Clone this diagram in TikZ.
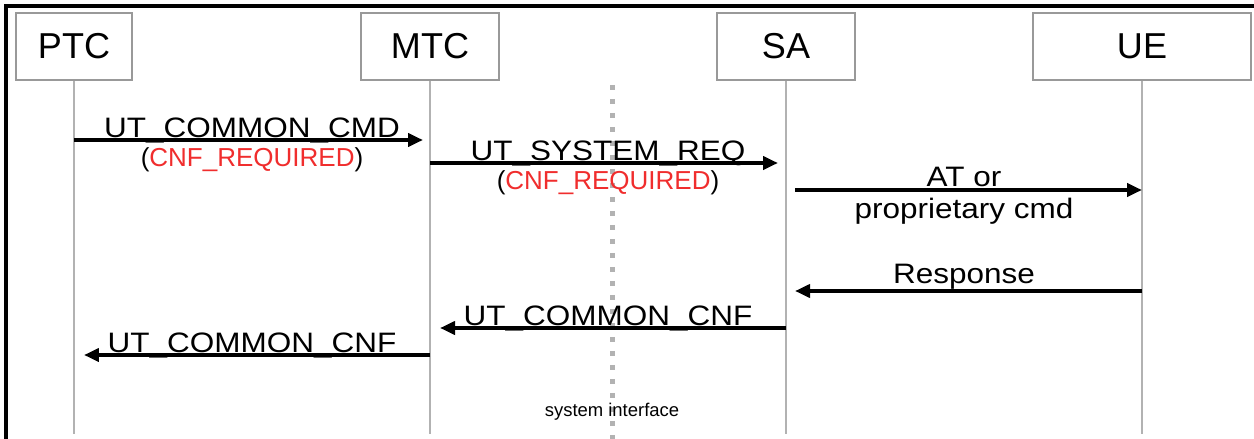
\documentclass[tikz,border=0pt]{standalone}
\usepackage{fontspec}
\setmainfont{Liberation Sans}
\newfontfamily\msgfont[FakeStretch=1.12]{Liberation Sans}
\usetikzlibrary{arrows.meta}
\definecolor{cnfred}{RGB}{240,45,45}

\begin{document}
\begin{tikzpicture}[x=0.02cm, y=-0.02cm,
		box/.style  = {rectangle, draw=black!40, line width=0.04cm, fill=white, minimum height=1.34cm, inner sep=0pt, font=\fontsize{20.5}{24}\selectfont},
		life/.style = {draw=black!30, line width=0.04cm},
		msg/.style  = {-{Triangle[length=0.3cm, width=0.26cm]}, line width=0.08cm},
		txt/.style  = {inner sep=0pt, anchor=base, font=\msgfont\fontsize{16}{19}\selectfont},
		cnf/.style  = {inner sep=0pt, font=\fontsize{14.8}{17}\selectfont},
		dots/.style = {draw=black!30, line width=0.1cm, dash pattern=on 0.1cm off 0.18cm},
		frm/.style  = {draw=black, line width=0.07cm},
		]
		\useasboundingbox (0,0) rectangle (1254,439);
		
		% === === Nodes === ===
		\node[box, minimum width=2.32cm]	(ptc)	at	(74, 46.5)		{PTC};
		\node[box, minimum width=2.76cm]	(mtc)	at	(430, 46.5)		{MTC};
		\node[box, minimum width=2.78cm]	(sa)	at	(786, 46.5)		{SA};
		\node[box, minimum width=4.38cm]	(ue)	at	(1142, 46.5)	{UE};
		
		\coordinate	(ptcend)	at	(ptc |- 0,434);
		\coordinate	(mtcend)	at	(mtc |- 0,434);
		\coordinate	(saend)		at	(sa |- 0,434);
		\coordinate	(ueend)		at	(ue |- 0,434);
		\coordinate	(siftop)	at	(612, 85);
		\coordinate	(sifend)	at	(612, 442);
		
		\draw[frm]	(6,442) -- (6,6) -- (1256,6);
		
		\draw[dots]	(siftop) -- (sifend);
		\node[inner sep=0pt, font=\fontsize{10.5}{12}\selectfont]	(sif)	at	(612, 412)	{system interface};
		
		\draw[life]	(ptc) -- (ptcend);
		\draw[life]	(mtc) -- (mtcend);
		\draw[life]	(sa) -- (saend);
		\draw[life]	(ue) -- (ueend);
		
		% === === Messages === ===
		\draw[msg, shorten >=0.14cm]	(ptc |- 0,140) -- (mtc |- 0,140)
			node[txt, midway, yshift=0.05cm]	{UT\_COMMON\_CMD}
			node[cnf, midway, yshift=-0.4cm]	{(\textcolor{cnfred}{CNF\_REQUIRED})};
		\draw[msg, shorten >=0.16cm]	(mtc |- 0,163) -- (sa |- 0,163)
			node[txt, midway, yshift=0.05cm]	{UT\_SYSTEM\_REQ}
			node[cnf, midway, yshift=-0.4cm]	{(\textcolor{cnfred}{CNF\_REQUIRED})};
		\draw[msg, shorten <=0.18cm]	(sa |- 0,190) -- (ue |- 0,190)
			node[txt, midway, yshift=0.08cm]	{AT or}
			node[txt, midway, yshift=-0.58cm]	{proprietary cmd};
		\draw[msg, shorten >=0.18cm]	(ue |- 0,291) -- (sa |- 0,291)
			node[txt, midway, yshift=0.16cm]	{Response};
		\draw[msg, shorten >=0.2cm]		(sa |- 0,328) -- (mtc |- 0,328)
			node[txt, midway, yshift=0.05cm]	{UT\_COMMON\_CNF};
		\draw[msg, shorten >=0.2cm]		(mtc |- 0,355) -- (ptc |- 0,355)
			node[txt, midway, yshift=0.05cm]	{UT\_COMMON\_CNF};
		
	\end{tikzpicture}
\end{document}
